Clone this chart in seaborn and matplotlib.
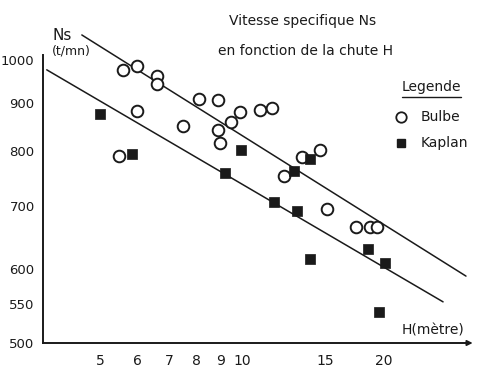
import numpy as np
import pandas as pd
import matplotlib
matplotlib.use("Agg")
import matplotlib.pyplot as plt
import seaborn as sns
from matplotlib.lines import Line2D

# ---- data ----
bulbe_H = [5.6, 6.0, 6.6, 6.6, 6.0, 5.5, 7.5, 8.1, 8.9, 9.9, 9.5, 8.9, 9.0,
           10.9, 11.6, 13.4, 14.6, 12.3, 15.1, 17.4, 18.7, 19.3]
bulbe_N = [975, 985, 962, 943, 882, 790, 851, 909, 907, 880, 859, 843, 816,
           885, 889, 788, 802, 752, 694, 664, 664, 664]
kaplan_H = [5.0, 5.85, 9.2, 9.95, 13.9, 12.9, 11.7, 13.1, 13.9, 18.5, 20.1, 19.5]
kaplan_N = [876, 794, 758, 802, 785, 762, 706, 691, 614, 629, 608, 539]

upper_H = [4.58, 29.8]
upper_N = [1063, 589]
lower_H = [3.86, 26.65]
lower_N = [976, 553]

x_ticks = [5, 6, 7, 8, 9, 10, 15, 20]
y_ticks = [500, 550, 600, 700, 800, 900, 1000]
legend_labels = ["Bulbe", "Kaplan"]

pts = pd.DataFrame({
    "H": bulbe_H + kaplan_H,
    "N": bulbe_N + kaplan_N,
    "type": ["Bulbe"] * len(bulbe_H) + ["Kaplan"] * len(kaplan_H),
})
lines = pd.DataFrame({
    "H": upper_H + lower_H,
    "N": upper_N + lower_N,
    "line": ["sup"] * 2 + ["inf"] * 2,
})

sns.set_style("white")
plt.rcParams["font.family"] = ["DejaVu Sans"]

W, Hpx = 478, 373
fig = plt.figure(figsize=(W / 100, Hpx / 100), dpi=100)
ax = fig.add_axes([43 / W, 1 - 343 / Hpx, (478 - 43) / W, 343 / Hpx])
ax.set_xscale("log")
ax.set_yscale("log")

ink = "#1a1a1a"

sns.lineplot(data=lines, x="H", y="N", units="line", estimator=None,
             color=ink, lw=1.1, ax=ax, legend=False)

b = pts[pts.type == "Bulbe"]
k = pts[pts.type == "Kaplan"]
sns.scatterplot(data=b, x="H", y="N", marker="o", s=70, facecolor="white",
                edgecolor=ink, linewidth=1.4, ax=ax, legend=False, zorder=3)
sns.scatterplot(data=k, x="H", y="N", marker="s", s=45, color=ink,
                edgecolor=ink, linewidth=0.5, ax=ax, legend=False, zorder=4)

ax.set_xlim(3.79, 31.6)
ax.set_ylim(500, 1158)
ax.minorticks_off()
ax.set_xticks(x_ticks)
ax.set_xticklabels([str(v) for v in x_ticks])
ax.set_yticks(y_ticks)
ax.set_yticklabels([str(v) for v in y_ticks])
ax.minorticks_off()
ax.tick_params(axis="both", direction="in", length=3, width=1.0, color=ink,
               labelcolor=ink)
ax.tick_params(axis="x", pad=8, labelsize=10)
ax.tick_params(axis="y", pad=6, labelsize=9.5)
ax.set_xlabel("")
ax.set_ylabel("")

for s in ["top", "right"]:
    ax.spines[s].set_visible(False)
for s in ["left", "bottom"]:
    ax.spines[s].set_color(ink)
    ax.spines[s].set_linewidth(1.4)
ax.spines["left"].set_bounds(500, 1012)
ax.spines["bottom"].set_bounds(3.79, 30.0)
ax.annotate("", xy=(31.2, 500), xytext=(29.5, 500), xycoords="data",
            arrowprops=dict(arrowstyle="-|>", color=ink, lw=1.2,
                            mutation_scale=8), annotation_clip=False)


def ftext(x, y, s, **kw):
    fig.text(x / W, 1 - y / Hpx, s, color=ink, **kw)


ftext(53, 35, "Ns", fontsize=11, ha="left", va="center")
ftext(52, 51, "(t/mn)", fontsize=9, ha="left", va="center")
ftext(303, 21, "Vitesse specifique Ns", fontsize=10, ha="center", va="center")
ftext(306, 51, "en fonction de la chute H", fontsize=10, ha="center", va="center")
ftext(433, 331, "H(mètre)", fontsize=10, ha="center", va="center")

# legend (drawn by hand: underlined title, marker + label rows)
ftext(431, 87, "Legende", fontsize=10, ha="center", va="center")
fig.add_artist(Line2D([402 / W, 461 / W], [1 - 97 / Hpx, 1 - 97 / Hpx],
                      color=ink, lw=1.0))
fig.add_artist(Line2D([401 / W], [1 - 117 / Hpx], marker="o", ls="",
                      markersize=7.5, markerfacecolor="white",
                      markeredgecolor=ink, markeredgewidth=1.3))
fig.add_artist(Line2D([401 / W], [1 - 143 / Hpx], marker="s", ls="",
                      markersize=6, color=ink))
ftext(421, 117, legend_labels[0], fontsize=10, ha="left", va="center")
ftext(421, 143, legend_labels[1], fontsize=10, ha="left", va="center")

fig.savefig("out.png", dpi=100)
